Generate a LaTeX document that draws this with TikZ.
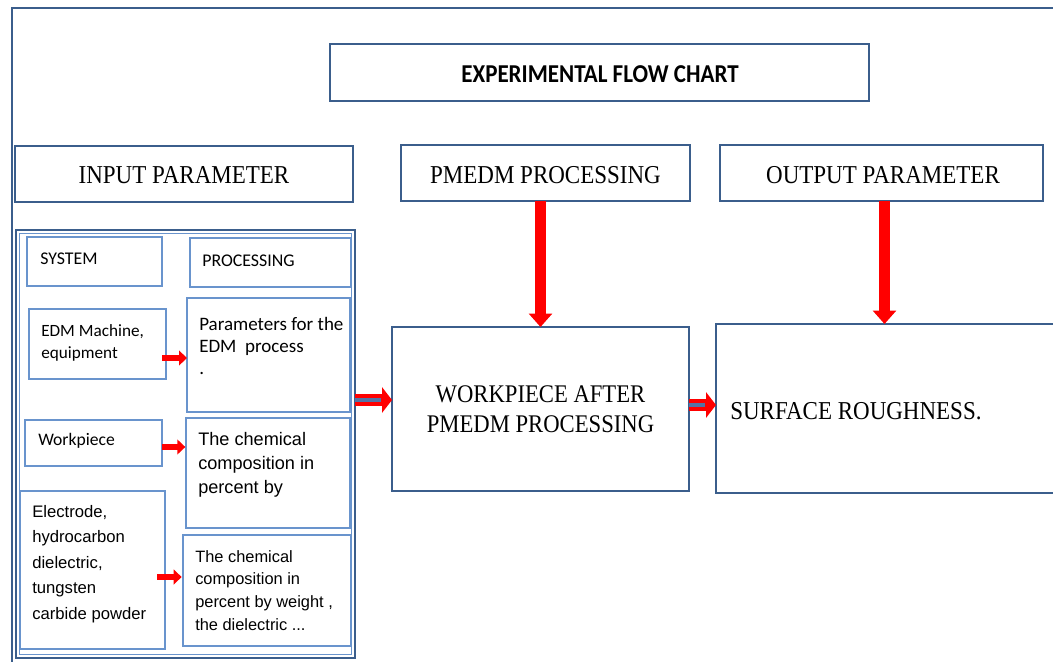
\documentclass[tikz,border=0pt]{standalone}
\usepackage{graphicx}
\usepackage{fontspec}
\setmainfont{Liberation Serif}
\newfontfamily\calfont[Ligatures=NoCommon]{Carlito}
\newfontfamily\arifont{Liberation Sans}
\usetikzlibrary{arrows.meta,fit}
\definecolor{frameblue}{RGB}{59,94,140}
\definecolor{lightblue}{RGB}{105,148,205}
\definecolor{coreblue}{RGB}{85,115,165}
\newcommand{\tall}[1]{\scalebox{1}[1.12]{#1}}
\begin{document}
\begin{tikzpicture}[x=0.75pt,y=-0.75pt,
  bigbox/.style={draw=frameblue,line width=1.5pt,inner sep=0pt,outer sep=0pt},
  smallbox/.style={draw=lightblue,line width=1.1pt,inner sep=0pt,outer sep=0pt},
  bigtext/.style={inner sep=0pt,font=\fontsize{17.25pt}{20pt}\selectfont},
  smalltext/.style={inner sep=0pt,align=left},
  smallarrow/.style={draw=red,line width=5pt,-{Triangle[length=6pt,width=11pt]}},
  downarrow/.style={draw=red,line width=8pt,-{Triangle[length=10pt,width=17pt]}},
  dblarrow/.style={draw=red,line width=9pt,-{Triangle[length=7.5pt,width=19pt]}},
  dblcore/.style={draw=coreblue,line width=3pt,shorten >=8.5pt}]
\useasboundingbox (0,0) rectangle (1053,661);
\clip (0,0) rectangle (1053,661);
\fill[white] (0,0) rectangle (1053,661);
% outer frame
\node[bigbox,line width=1.9pt,fit={(12,8) (1070,680)}] (frame) {};
% top boxes
\node[bigbox,fit={(330,44) (869,101)}] (title) {};
\node[bigtext,anchor=base,font=\calfont\bfseries\fontsize{17.25pt}{20pt}\selectfont] (ttitle) at (600,82) {\tall{EXPERIMENTAL FLOW CHART}};
\node[bigbox,fit={(15,146) (353,202)}] (input) {};
\node[bigtext,anchor=base] (tinput) at (184,183) {\tall{INPUT PARAMETER}};
\node[bigbox,fit={(401,145) (690,201)}] (pmedm) {};
\node[bigtext,anchor=base] (tpmedm) at (545.5,183) {\tall{PMEDM PROCESSING}};
\node[bigbox,fit={(720,145) (1043,201)}] (output) {};
\node[bigtext,anchor=base] (toutput) at (883,183) {\tall{OUTPUT PARAMETER}};
% input group
\node[bigbox,line width=1.3pt,fit={(16,230) (355,658)}] (grp) {};
\node[smallbox,line width=0.8pt,fit={(19.5,233.5) (351.5,654.5)}] (grpin) {};
\node[smallbox,fit={(27,237) (162,286)}] (sys) {};
\node[smalltext,anchor=base west,font=\calfont\fontsize{13.4pt}{15pt}\selectfont] (tsys) at (40,264) {SYSTEM};
\node[smallbox,fit={(190,238) (351,287)}] (proc) {};
\node[smalltext,anchor=base west,font=\calfont\fontsize{13.4pt}{15pt}\selectfont] (tproc) at (202,266) {PROCESSING};
\node[smallbox,fit={(29,309) (166,379)}] (edm) {};
\node[smalltext,anchor=north west,font=\calfont\fontsize{12.9pt}{16.5pt}\selectfont] (tedm) at (41,324) {EDM Machine,\\equipment};
\node[smallbox,fit={(187,298) (350,412)}] (param) {};
\node[smalltext,anchor=north west,font=\calfont\fontsize{14.25pt}{16.5pt}\selectfont] (tparam) at (199,317) {Parameters for the\\EDM\ \ process\\.};
\node[smallbox,fit={(25,420) (162,466)}] (wp) {};
\node[smalltext,anchor=base west,font=\calfont\fontsize{13.2pt}{15pt}\selectfont] (twp) at (38,445) {Workpiece};
\node[smallbox,fit={(186,418) (350,528)}] (chem) {};
\node[smalltext,anchor=north west,font=\arifont\fontsize{13.6pt}{18pt}\selectfont] (tchem) at (198,432) {The chemical\\composition in\\percent by};
\node[smallbox,fit={(20,491) (165,649)}] (elec) {};
\node[smalltext,anchor=north west,font=\arifont\fontsize{12.5pt}{19.1pt}\selectfont] (telec) at (32,505) {Electrode,\\hydrocarbon\\dielectric,\\tungsten\\carbide powder};
\node[smallbox,fit={(183,535) (351,646)}] (chemb) {};
\node[smalltext,anchor=north west,font=\arifont\fontsize{12.3pt}{17pt}\selectfont] (tchemb) at (195,550) {The chemical\\composition in\\percent by weight ,\\the dielectric ...};
% process and output boxes
\node[bigbox,fit={(392,327) (689,491)}] (work) {};
\node[bigtext,anchor=north,align=center,font=\fontsize{17pt}{23pt}\selectfont] (twork) at (540.5,385) {\tall{WORKPIECE AFTER}\\\tall{PMEDM PROCESSING}};
\node[bigbox,fit={(716,324) (1070,493)}] (surf) {};
\node[bigtext,anchor=base west] (tsurf) at (730,419) {\tall{SURFACE ROUGHNESS.}};
% helper coordinates
\coordinate (y1) at (0,358);
\coordinate (y2) at (0,447);
\coordinate (y3) at (0,577);
\coordinate (y4) at (0,400);
\coordinate (y5) at (0,405);
\coordinate (x6) at (884.5,0);
% small arrows
\draw[smallarrow] ([xshift=-3pt]edm.east |- y1) -- (param.west |- y1);
\draw[smallarrow] (wp.east |- y2) -- ([xshift=-0.5pt]chem.west |- y2);
\draw[smallarrow] ([xshift=-6pt]elec.east |- y3) -- ([xshift=-1pt]chemb.west |- y3);
% double arrows
\draw[dblarrow] (grp.east |- y4) -- (work.west |- y4);
\draw[dblcore] (grp.east |- y4) -- (work.west |- y4);
\draw[dblarrow] (work.east |- y5) -- (surf.west |- y5);
\draw[dblcore] (work.east |- y5) -- (surf.west |- y5);
% down arrows
\draw[downarrow] (work.north |- pmedm.south) -- (work.north);
\draw[downarrow] (x6 |- output.south) -- (x6 |- surf.north);
\end{tikzpicture}
\end{document}
